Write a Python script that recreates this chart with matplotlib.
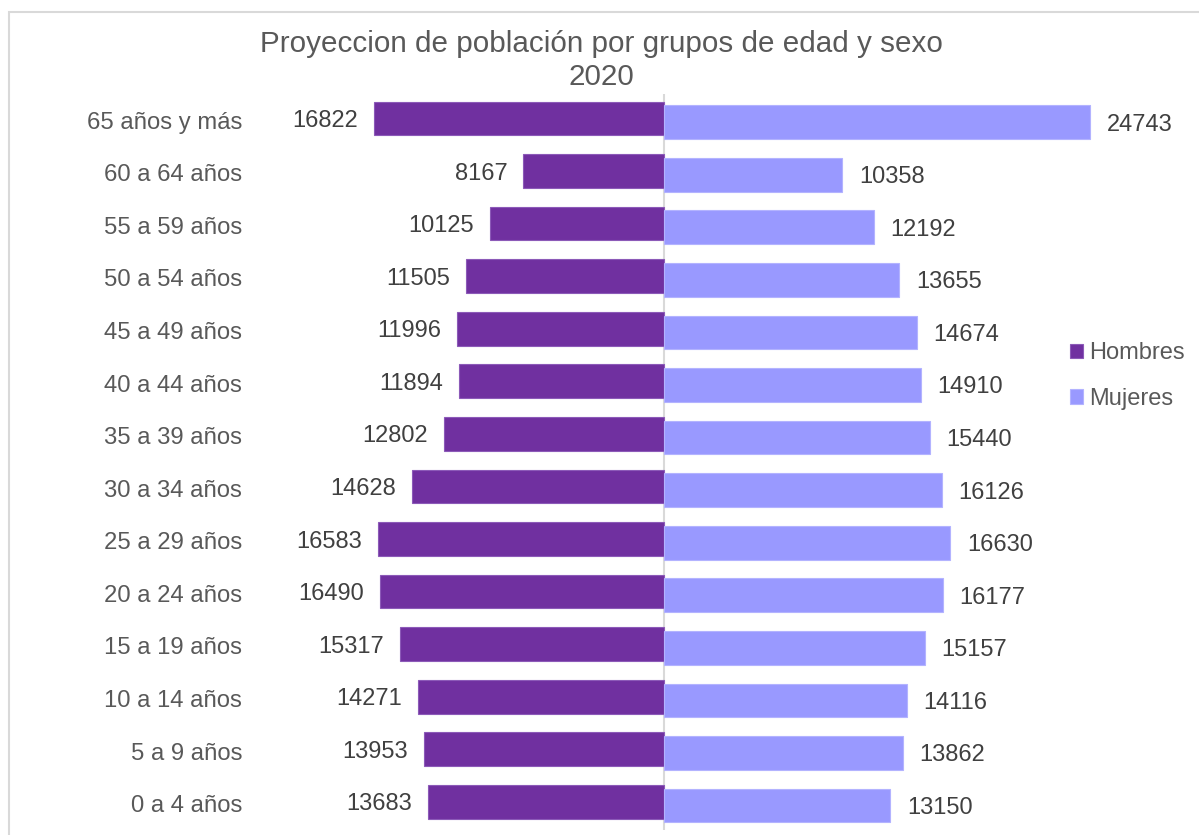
import matplotlib.pyplot as plt
from matplotlib.patches import Rectangle

grupos = ["0 a 4 años", "5 a 9 años", "10 a 14 años", "15 a 19 años",
          "20 a 24 años", "25 a 29 años", "30 a 34 años", "35 a 39 años",
          "40 a 44 años", "45 a 49 años", "50 a 54 años", "55 a 59 años",
          "60 a 64 años", "65 años y más"]
hombres = [13683, 13953, 14271, 15317, 16490, 16583, 14628, 12802,
           11894, 11996, 11505, 10125, 8167, 16822]
mujeres = [13150, 13862, 14116, 15157, 16177, 16630, 16126, 15440,
           14910, 14674, 13655, 12192, 10358, 24743]

plt.rcParams['font.family'] = ['Liberation Sans', 'DejaVu Sans']

W, H = 1199, 835
fig = plt.figure(figsize=(W / 100, H / 100), dpi=100)

# marco del grafico (recortado a la derecha y abajo)
fig.patches.append(Rectangle((9 / W, -0.1), 1.2, 1.1 - 12 / H,
                             transform=fig.transFigure, fill=False,
                             edgecolor='#d9d9d9', lw=1.5))

ax = fig.add_axes([250.7 / W, 5 / H, 843.8 / W, 736 / H])

y = list(range(len(grupos)))
off = 0.035
alto = 0.64
ax.barh([v + off for v in y], [-h for h in hombres], height=alto,
        color='#7030a0', edgecolor='#8c5ab8', lw=0.8, label='Hombres')
ax.barh([v - off for v in y], mujeres, height=alto,
        color='#9999ff', edgecolor='#b3b3ff', lw=0.8, label='Mujeres')

for i, (h, m) in enumerate(zip(hombres, mujeres)):
    ax.annotate(str(h), (-h, i + off), xytext=(-11.5, -1.8),
                textcoords='offset points', ha='right', va='center',
                fontsize=17, color='#404040')
    ax.annotate(str(m), (m, i - off), xytext=(12, -1.8),
                textcoords='offset points', ha='left', va='center',
                fontsize=17, color='#404040')

ax.axvline(0, color='#d9d9d9', lw=1.5, zorder=0.5)
ax.set_xlim(-24000, 25000)
ax.set_ylim(-0.5, len(grupos) - 0.5)
ax.set_yticks(y)
ax.set_yticklabels(grupos, fontsize=17.2, color='#595959')
ax.tick_params(axis='y', length=0, pad=6)
ax.set_xticks([])
for s in ax.spines.values():
    s.set_visible(False)

fig.text(601 / W, 1 - 52 / H, "Proyeccion de población por grupos de edad y sexo",
         ha='center', va='baseline', fontsize=21.3, color='#595959')
fig.text(601 / W, 1 - 85 / H, "2020",
         ha='center', va='baseline', fontsize=21.3, color='#595959')

leg = fig.legend(loc='center left', bbox_to_anchor=(1070 / W, 1 - 376 / H),
                 frameon=False, fontsize=17, handlelength=0.55,
                 handleheight=0.55, handletextpad=0.25, labelspacing=1.0,
                 borderpad=0, borderaxespad=0)
for t in leg.get_texts():
    t.set_color('#595959')

fig.savefig('out.png', dpi=100)
